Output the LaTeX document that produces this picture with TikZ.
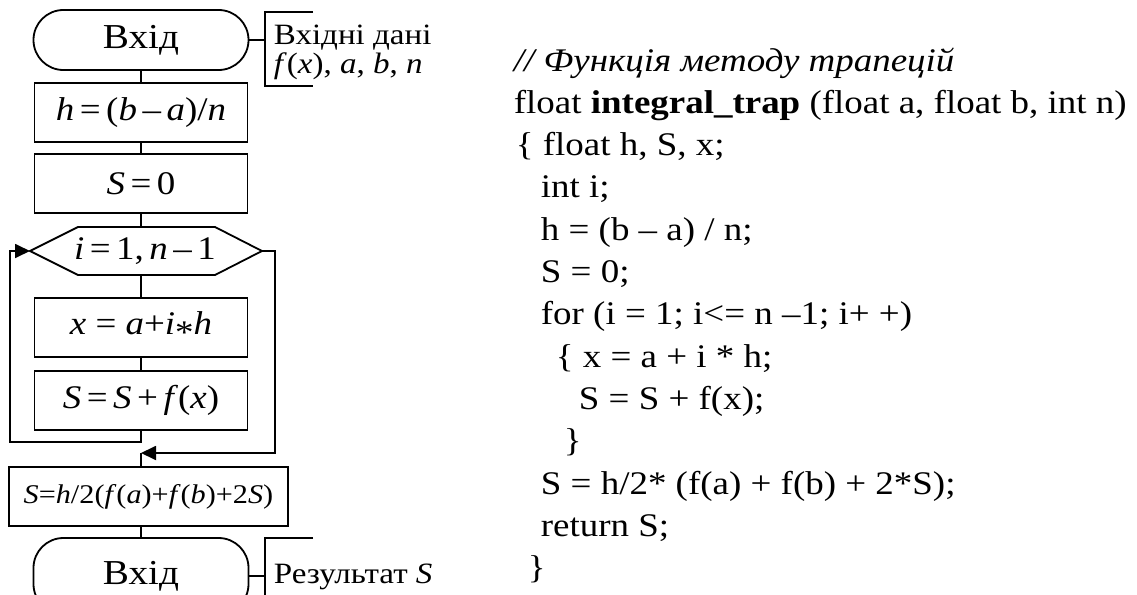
\documentclass[tikz,border=0pt]{standalone}
\usepackage{fontspec}
\setmainfont{Liberation Serif}[FakeStretch=1.12]
\usetikzlibrary{arrows.meta}
\begin{document}
\begin{tikzpicture}[x=1pt,y=-1pt, line width=1.8pt,
  term/.style={draw, rounded corners=29.9pt, minimum width=215pt, minimum height=60pt, inner sep=0pt, font=\fontsize{35}{40}\selectfont},
  proc/.style={draw, minimum width=213pt, minimum height=59pt, inner sep=0pt, font=\fontsize{33}{38}\selectfont},
  code/.style={anchor=base west, inner sep=0pt, font=\fontsize{33}{40}\selectfont},
  note/.style={anchor=base west, inner sep=0pt, font=\fontsize{29.5}{34}\selectfont},
  arr/.style={-{Triangle[length=15pt,width=14pt]}},
]
\useasboundingbox (0,0) rectangle (1137,594);
\clip (0,0) rectangle (1137,594);

% flowchart
\node[term] (t1) at (141,40) {Вхід};
\node[proc] (b1) at (141,112.5) {\textit{h}\,=\,(\textit{b}\,–\,\textit{a})/\textit{n}};
\node[proc] (b2) at (141,183.5) {\textit{S}\,=\,0};
\coordinate (hL) at (30,251);
\coordinate (hR) at (262,251);
\draw (hL) -- (78,227) -- (215,227) -- (hR) -- (215,275) -- (78,275) -- cycle;
\node[inner sep=0pt, font=\fontsize{33}{38}\selectfont] (hx) at (145,251) {\textit{i}\,=\,1,\,\textit{n}\,–\,1};
\node[proc] (b3) at (141,327.5) {\textit{x} = \textit{a}+\textit{i}\raisebox{-0.25em}{*}\textit{h}};
\node[proc] (b4) at (141,400.5) {\textit{S}\,=\,\textit{S}\,+\,\textit{f}(\textit{x})};
\node[draw, minimum width=279pt, minimum height=59pt, inner sep=0pt, font=\fontsize{27}{32}\selectfont] (b5) at (148.5,496.5)
  {\textit{S}=\textit{h}/2(\textit{f}(\textit{a})+\textit{f}(\textit{b})+2\textit{S})};
\node[term, minimum height=76pt] (t2) at (141,576) {Вхід};

\coordinate (lpA) at (141,442);
\coordinate (lpL) at (10,442);
\coordinate (lpR) at (275,251);
\coordinate (mrg) at (141,453);

\draw (t1) -- (b1);
\draw (b1) -- (b2);
\draw (b2.south) -- (b2.south |- 0,227);
\draw (141,275) -- (b3.north);
\draw (b3) -- (b4);
\draw[arr] (b4.south) -- (lpA) -- (lpL) |- (hL);
\draw[arr] (hR) -- (lpR) |- (mrg);
\draw (mrg) -- (mrg |- b5.north);
\draw (mrg |- b5.south) -- (t2.north);

% annotations
\coordinate (n1) at (265,40);
\draw (t1.east) -- (n1);
\draw (313,12) -- (265,12) -- (265,86) -- (313,86);
\node[note] (a1) at (273,45) {Вхідні дані};
\node[note] (a2) at (273,74) {\textit{f}(\textit{x}), \textit{a}, \textit{b}, \textit{n}};

\coordinate (n2) at (265,576);
\draw (t2.east) -- (n2);
\draw (313,538) -- (265,538) -- (265,600);
\node[note] (a3) at (273,583) {Результат \textit{S}};

% code
\node[code] (l1) at (513,71) {\itshape // Функція методу трапецій};
\node[code] (l2) at (513,113.3) {float \textbf{integral\_trap} (float a, float b, int n)};
\node[code] (l3) at (515,155.6) {\{ float h, S, x;};
\node[code] (l4) at (540,197.9) {int i;};
\node[code] (l5) at (540,240.2) {h = (b – a) / n;};
\node[code] (l6) at (540,282.5) {S = 0;};
\node[code] (l7) at (540,324.8) {for (i = 1; i<= n –1; i+ +)};
\node[code] (l8) at (555,367.1) {\{ x = a + i * h;};
\node[code] (l9) at (578,409.4) {S = S + f(x);};
\node[code] (l10) at (563,451.7) {\}};
\node[code] (l11) at (540,494) {S = h/2* (f(a) + f(b) + 2*S);};
\node[code] (l12) at (540,536.3) {return S;};
\node[code] (l13) at (527,578.6) {\}};
\end{tikzpicture}
\end{document}
